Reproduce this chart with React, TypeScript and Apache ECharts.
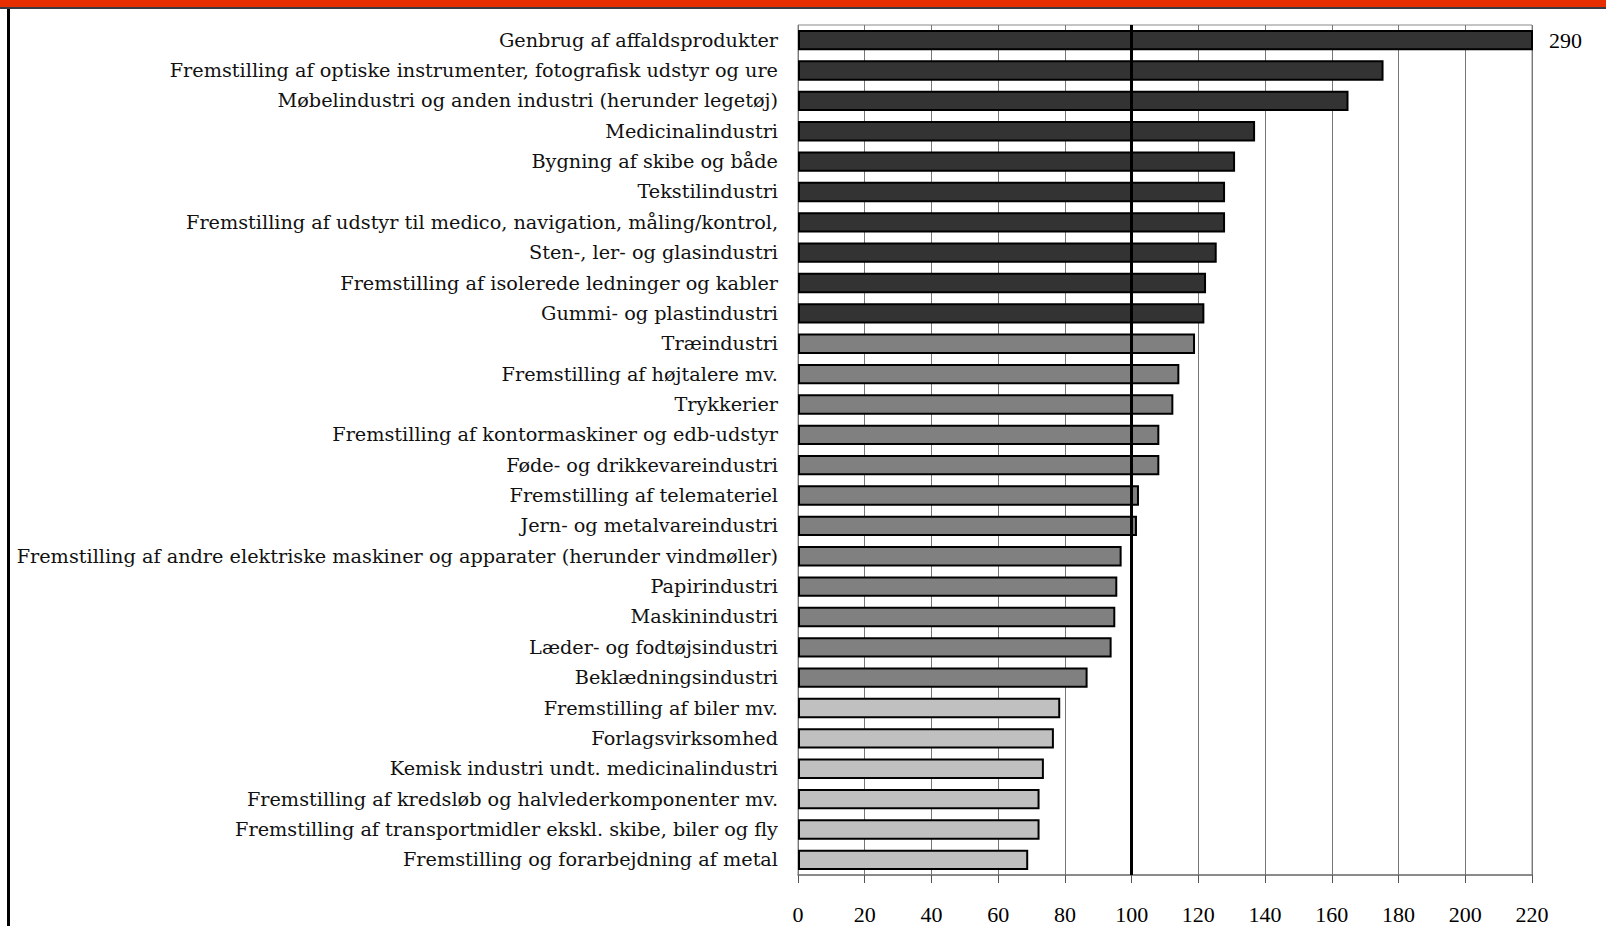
import React, { useEffect, useRef } from "react";
import * as echarts from "echarts";

const categories = [
  "Genbrug af affaldsprodukter",
  "Fremstilling af optiske instrumenter, fotografisk udstyr og ure",
  "Møbelindustri og anden industri (herunder legetøj)",
  "Medicinalindustri",
  "Bygning af skibe og både",
  "Tekstilindustri",
  "Fremstilling af udstyr til medico, navigation, måling/kontrol,",
  "Sten-, ler- og glasindustri",
  "Fremstilling af isolerede ledninger og kabler",
  "Gummi- og plastindustri",
  "Træindustri",
  "Fremstilling af højtalere mv.",
  "Trykkerier",
  "Fremstilling af kontormaskiner og edb-udstyr",
  "Føde- og drikkevareindustri",
  "Fremstilling af telemateriel",
  "Jern- og metalvareindustri",
  "Fremstilling af andre elektriske maskiner og apparater (herunder vindmøller)",
  "Papirindustri",
  "Maskinindustri",
  "Læder- og fodtøjsindustri",
  "Beklædningsindustri",
  "Fremstilling af biler mv.",
  "Forlagsvirksomhed",
  "Kemisk industri undt. medicinalindustri",
  "Fremstilling af kredsløb og halvlederkomponenter mv.",
  "Fremstilling af transportmidler ekskl. skibe, biler og fly",
  "Fremstilling og forarbejdning af metal",
];

const values = [
  290, 175.5, 165, 137, 131, 128, 128, 125.5, 122.3, 121.8,
  119, 114.3, 112.5, 108.3, 108.3, 102.2, 101.6, 97, 95.7, 95.1,
  94, 86.8, 78.6, 76.7, 73.7, 72.4, 72.4, 69,
];

// group of each branch: 0 = dark, 1 = medium, 2 = light
const groups = [
  0, 0, 0, 0, 0, 0, 0, 0, 0, 0,
  1, 1, 1, 1, 1, 1, 1, 1, 1, 1, 1, 1,
  2, 2, 2, 2, 2, 2,
];

const xTicks = [0, 20, 40, 60, 80, 100, 120, 140, 160, 180, 200, 220];
const referenceValue = 100;

const groupColors = ["#333333", "#808080", "#c0c0c0"];
const FONT = "'Liberation Serif', 'DejaVu Serif', serif";
const LABEL_FONT = "'DejaVu Serif', 'Liberation Serif', serif";

export default function App() {
  const ref = useRef<HTMLDivElement>(null);

  useEffect(() => {
    document.body.style.margin = "0";
    if (!ref.current) return;
    const chart = echarts.init(ref.current, undefined, { renderer: "svg" });

    const data = values.map((v, i) => {
      const item: any = {
        value: v,
        itemStyle: { color: groupColors[groups[i]] },
      };
      if (v > xTicks[xTicks.length - 1]) {
        item.label = {
          show: true,
          position: "right",
          distance: 16,
          formatter: String(v),
          color: "#000",
          fontFamily: FONT,
          fontSize: 22,
        };
      }
      return item;
    });

    chart.setOption({
      animation: false,
      backgroundColor: "#ffffff",
      graphic: [
        {
          type: "rect",
          shape: { x: 0, y: 0, width: 1606, height: 7 },
          style: { fill: "#e62e00" },
          silent: true,
        },
        {
          type: "rect",
          shape: { x: 0, y: 7, width: 1606, height: 2 },
          style: { fill: "#3a3a44" },
          silent: true,
        },
        {
          type: "rect",
          shape: { x: 7, y: 9, width: 3, height: 917 },
          style: { fill: "#000000" },
          silent: true,
        },
      ],
      grid: {
        left: 798,
        right: 74,
        top: 25,
        bottom: 51,
        show: true,
        borderColor: "#8a8a8a",
        borderWidth: 1,
        backgroundColor: "transparent",
      },
      xAxis: {
        type: "value",
        min: 0,
        max: 220,
        interval: 20,
        axisLine: { show: true, lineStyle: { color: "#777", width: 1.5 } },
        axisTick: { show: true, length: 8, lineStyle: { color: "#555" } },
        splitLine: { show: true, lineStyle: { color: "#777", width: 1 } },
        axisLabel: {
          margin: 28,
          color: "#000",
          fontFamily: FONT,
          fontSize: 22,
        },
      },
      yAxis: {
        type: "category",
        data: categories,
        inverse: true,
        axisLine: { show: false },
        axisTick: { show: false },
        axisLabel: {
          margin: 20,
          color: "#111",
          fontFamily: LABEL_FONT,
          fontSize: 19.25,
        },
      },
      series: [
        {
          type: "bar",
          data,
          barCategoryGap: "33%",
          clip: true,
          itemStyle: { borderColor: "#000", borderWidth: 2 },
          markLine: {
            silent: true,
            symbol: "none",
            label: { show: false },
            lineStyle: { color: "#000", width: 3, type: "solid" },
            data: [{ xAxis: referenceValue }],
          },
        },
      ],
    });

    return () => chart.dispose();
  }, []);

  return <div ref={ref} style={{ width: 1606, height: 926 }} />;
}
